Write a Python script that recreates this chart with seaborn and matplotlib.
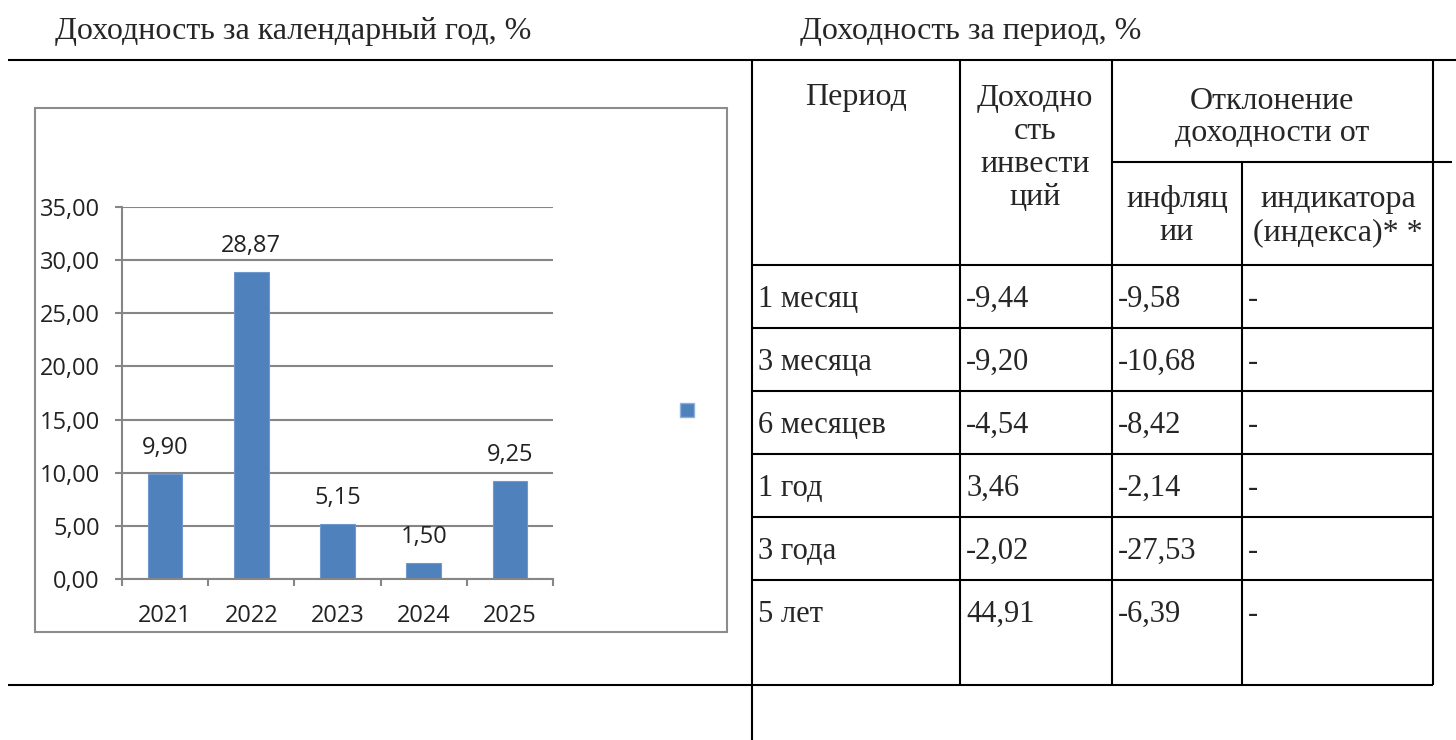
import matplotlib
matplotlib.use("Agg")
import matplotlib.pyplot as plt
import matplotlib.patches as mpatches
from matplotlib.ticker import FuncFormatter
import seaborn as sns

# bar chart data
years = ["2021", "2022", "2023", "2024", "2025"]
year_returns = [9.90, 28.87, 5.15, 1.50, 9.25]

# table data
periods = ["1 месяц", "3 месяца", "6 месяцев", "1 год", "3 года", "5 лет"]
period_returns = ["-9,44", "-9,20", "-4,54", "3,46", "-2,02", "44,91"]
vs_inflation = ["-9,58", "-10,68", "-8,42", "-2,14", "-27,53", "-6,39"]
vs_index = ["-", "-", "-", "-", "-", "-"]

title_left = "Доходность за календарный год, %"
title_right = "Доходность за период, %"

W, H = 1456, 740
bar_color = "#4F81BD"
grid_gray = "#868686"
serif = "Liberation Serif"

sns.set_theme(style="white")
plt.rcParams["font.family"] = ["Open Sans", "DejaVu Sans"]

fig = plt.figure(figsize=(W / 100, H / 100), dpi=100)

# overlay in pixel coordinates for the document frame and the table
ov = fig.add_axes([0, 0, 1, 1])
ov.set_xlim(0, W)
ov.set_ylim(H, 0)
ov.axis("off")

def hline(y, x0, x1, **kw):
    ov.plot([x0, x1], [y, y], color=kw.get("color", "black"), lw=kw.get("lw", 1.5),
            solid_capstyle="butt")

def vline(x, y0, y1, **kw):
    ov.plot([x, x], [y0, y1], color=kw.get("color", "black"), lw=kw.get("lw", 1.5),
            solid_capstyle="butt")

ov.text(55, 39, title_left, family=serif, fontsize=23, va="baseline", ha="left")
ov.text(800, 39, title_right, family=serif, fontsize=23, va="baseline", ha="left")

# frame lines
hline(60, 8, W)
hline(685, 8, 1433)
vline(752, 60, H)

# table grid
cols = [752, 960, 1112, 1242, 1433]
rows = [265, 328, 391, 454, 517, 580, 685]
for x in [960, 1112, 1433]:
    vline(x, 60, 685)
vline(1242, 162, 685)
hline(162, 1112, 1452)
for y in rows[:-1]:
    hline(y, 752, 1433)

# header text
def header(lines, xc, y0, step, size=23):
    for i, s in enumerate(lines):
        ov.text(xc, y0 + i * step, s, family=serif, fontsize=size, ha="center", va="baseline")

header(["Период"], 856, 105, 33)
header(["Доходно", "сть", "инвести", "ций"], 1035, 106, 33)
header(["Отклонение", "доходности от"], 1272, 109, 32)
header(["инфляц", "ии"], 1177, 207, 33)
header(["индикатора", "(индекса)* *"], 1338, 207, 33)

for i, cells in enumerate(zip(periods, period_returns, vs_inflation, vs_index)):
    for j, s in enumerate(cells):
        ov.text(cols[j] + 6, rows[i] + 42, s, family=serif, fontsize=22, ha="left", va="baseline")

# chart frame
ov.add_patch(mpatches.Rectangle((35, 108), 692, 524, fill=False, edgecolor="#8c8c8c", lw=1.5))

# bar chart
ax = fig.add_axes([122 / W, (H - 579) / H, 431 / W, (579 - 207) / H])
ax.set_facecolor("none")
sns.barplot(x=years, y=year_returns, color=bar_color, saturation=1, width=0.4,
            edgecolor="#6f98cc", linewidth=0.8, ax=ax)
ax.set_ylim(0, 35)
ax.set_yticks(range(0, 36, 5))
ax.yaxis.set_major_formatter(FuncFormatter(lambda v, p: f"{v:.2f}".replace(".", ",")))
ax.yaxis.grid(True, color=grid_gray, lw=1.5)
ax.set_axisbelow(True)
for side in ["top", "right"]:
    ax.spines[side].set_visible(False)
for side in ["left", "bottom"]:
    ax.spines[side].set_color(grid_gray)
    ax.spines[side].set_linewidth(1.5)
ax.set_xlabel("")
ax.set_ylabel("")
ax.tick_params(axis="y", left=True, length=5, width=1.5, color=grid_gray, labelsize=17, pad=11,
               labelcolor="#222222")
ax.set_xticks([i - 0.5 for i in range(len(years) + 1)], minor=True)
ax.tick_params(axis="x", which="major", length=0, labelsize=17, pad=18, labelcolor="#222222")
ax.tick_params(axis="x", which="minor", bottom=True, length=5, width=1.5, color=grid_gray)
ax.set_xlim(-0.5, len(years) - 0.5)

ax.bar_label(ax.containers[0], labels=[f"{v:.2f}".replace(".", ",") for v in year_returns],
             padding=10, fontsize=17, color="#222222")

# legend with empty series name
fig.legend(handles=[mpatches.Patch(facecolor=bar_color, edgecolor="#8fb0da")], labels=[""],
           loc="center", bbox_to_anchor=(687 / W, 1 - 412 / H), frameon=False,
           handlelength=0.7, handleheight=0.7, handletextpad=0, borderpad=0, fontsize=14)

fig.savefig("out.png", dpi=100)
